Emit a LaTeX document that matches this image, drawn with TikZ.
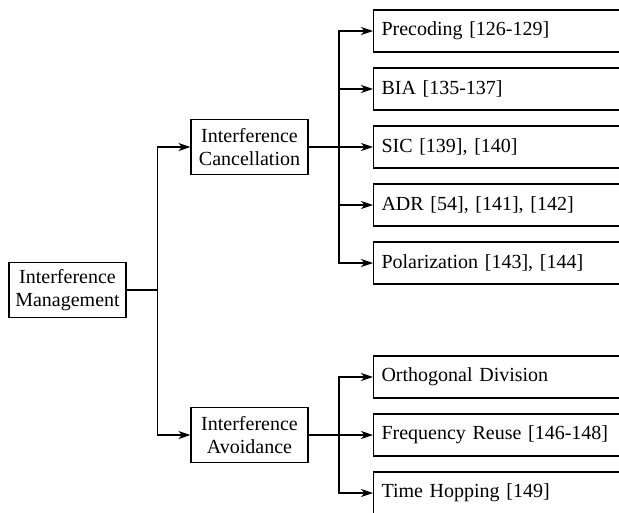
\documentclass[tikz,border=0pt]{standalone}
\usepackage{fontspec}
\setmainfont{Liberation Serif}
\usetikzlibrary{arrows.meta,positioning}
\tikzset{box/.style={draw,line width=1.1pt,align=center,font=\fontsize{20}{22.5}\selectfont,
    inner sep=0pt,minimum width=117pt,minimum height=55pt},
  leaf/.style={draw,line width=1.1pt,anchor=west,align=left,font=\fontsize{20}{22.5}\selectfont,
    text width=270pt,inner xsep=8pt,inner ysep=0pt,minimum height=42pt},
  conn/.style={line width=1.1pt},
  arr/.style={-{Stealth[length=12pt,width=8pt,inset=3.5pt]},line width=1.1pt}}

\begin{document}
\begin{tikzpicture}[x=1pt,y=-1pt]
\clip (0,0) rectangle (619,512);
% left column
\node[box] (mgmt) at (67.5,290) {Interference\\Management};
\node[box] (canc) at (249.5,147) {Interference\\Cancellation};
\node[box] (avoid) at (249.5,435) {Interference\\Avoidance};
% cancellation methods
\node[leaf] (prec) at (373,31) {Precoding [126-129]};
\node[leaf] (bia) at (373,89) {BIA [135-137]};
\node[leaf] (sic) at (373,147) {SIC [139], [140]};
\node[leaf] (adr) at (373,205) {ADR [54], [141], [142]};
\node[leaf] (pol) at (373,263) {Polarization [143], [144]};
% avoidance methods
\node[leaf] (orth) at (373,377) {Orthogonal Division};
\node[leaf] (freq) at (373,435) {Frequency Reuse [146-148]};
\node[leaf] (hop) at (373,493) {Time Hopping [149]};
% connectors
\draw[conn] (mgmt.east) -- ++(31,0) coordinate (t1);
\draw[arr] (t1) |- (canc.west);
\draw[arr] (t1) |- (avoid.west);
\draw[arr] (canc.east) -- (sic.west);
\coordinate (t2) at (339,147);
\foreach \n in {prec,bia,adr,pol} \draw[arr] (t2) |- (\n.west);
\draw[arr] (avoid.east) -- (freq.west);
\coordinate (t3) at (339,435);
\foreach \n in {orth,hop} \draw[arr] (t3) |- (\n.west);
\end{tikzpicture}
\end{document}
